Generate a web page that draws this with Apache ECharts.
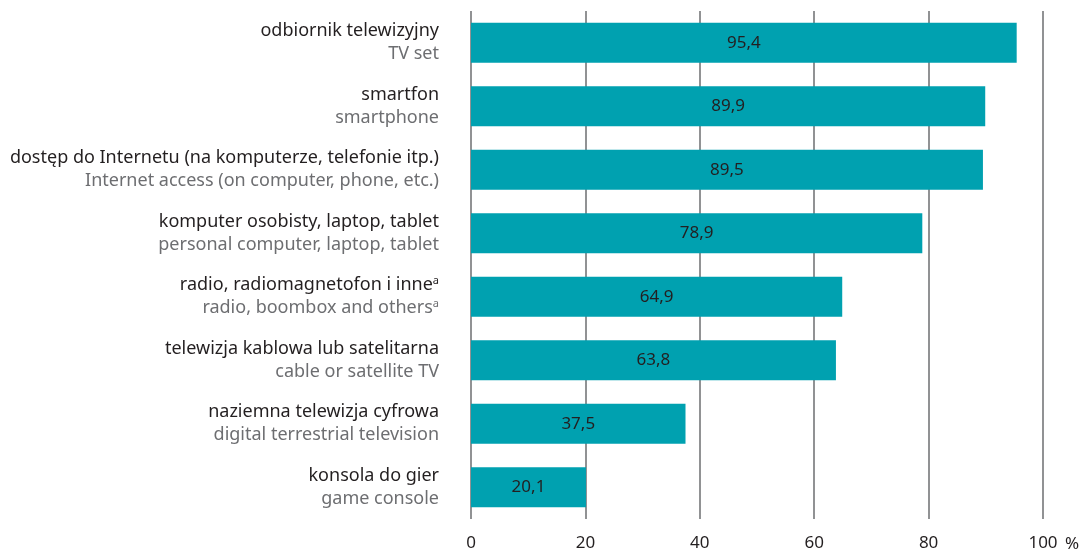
<!DOCTYPE html>
<html>
<head>
<meta charset="utf-8">
<script src="https://cdn.jsdelivr.net/npm/echarts@6/dist/echarts.min.js"></script>
<style>
  html, body { margin: 0; padding: 0; background: #fff; }
  #chart { width: 1082px; height: 552px; }
</style>
</head>
<body>
<div id="chart"></div>
<script>
  // polish / english label pairs, top to bottom
  var categoriesPl = ['odbiornik telewizyjny', 'smartfon', 'dostęp do Internetu (na komputerze, telefonie itp.)',
    'komputer osobisty, laptop, tablet', 'radio, radiomagnetofon i inne', 'telewizja kablowa lub satelitarna',
    'naziemna telewizja cyfrowa', 'konsola do gier'];
  var categoriesEn = ['TV set', 'smartphone', 'Internet access (on computer, phone, etc.)',
    'personal computer, laptop, tablet', 'radio, boombox and others', 'cable or satellite TV',
    'digital terrestrial television', 'game console'];
  var footnoted = [4]; // rows with the "a" footnote
  var values = [95.4, 89.9, 89.5, 78.9, 64.9, 63.8, 37.5, 20.1];
  var xTicks = [0, 20, 40, 60, 80, 100];

  var chart = echarts.init(document.getElementById('chart'));
  var font = 'Noto Sans';

  chart.setOption({
    animation: false,
    grid: { left: 471, right: 39, top: 11, bottom: 33, containLabel: false, outerBoundsMode: 'none' },
    xAxis: {
      type: 'value',
      min: xTicks[0],
      max: xTicks[xTicks.length - 1],
      interval: 20,
      name: '%',
      nameLocation: 'end',
      nameGap: 22,
      nameTextStyle: { fontFamily: font, fontSize: 17, color: '#231f20', verticalAlign: 'top', padding: [17, 0, 0, 0] },
      axisLine: { show: false },
      axisTick: { show: false },
      axisLabel: { fontFamily: font, fontSize: 17, color: '#231f20', margin: 16 },
      splitLine: { show: true, lineStyle: { color: '#6d6e71', width: 1.5 } }
    },
    yAxis: {
      type: 'category',
      inverse: true,
      data: categoriesPl.map(function (c, i) { return String(i); }),
      axisLine: { show: false },
      axisTick: { show: false },
      axisLabel: {
        margin: 32,
        align: 'right',
        formatter: function (v) {
          var i = +v;
          var sup = footnoted.indexOf(i) >= 0;
          return '{pl|' + categoriesPl[i] + '}' + (sup ? '{sp|a}' : '') + '\n' +
                 '{en|' + categoriesEn[i] + '}' + (sup ? '{sg|a}' : '');
        },
        rich: {
          pl: { fontFamily: font, fontSize: 18, color: '#231f20', lineHeight: 23 },
          en: { fontFamily: font, fontSize: 18, color: '#6d6e71', lineHeight: 23 },
          sp: { fontFamily: font, fontSize: 11, color: '#231f20', lineHeight: 23, padding: [0, 0, 9, 0] },
          sg: { fontFamily: font, fontSize: 11, color: '#6d6e71', lineHeight: 23, padding: [0, 0, 9, 0] }
        }
      }
    },
    series: [{
      type: 'bar',
      data: values,
      barWidth: 40,
      itemStyle: { color: '#00a1b0' },
      label: {
        show: true,
        position: 'inside',
        fontFamily: font,
        fontSize: 17,
        color: '#231f20',
        formatter: function (p) { return String(p.value.toFixed(1)).replace('.', ','); }
      }
    }]
  });
</script>
</body>
</html>
